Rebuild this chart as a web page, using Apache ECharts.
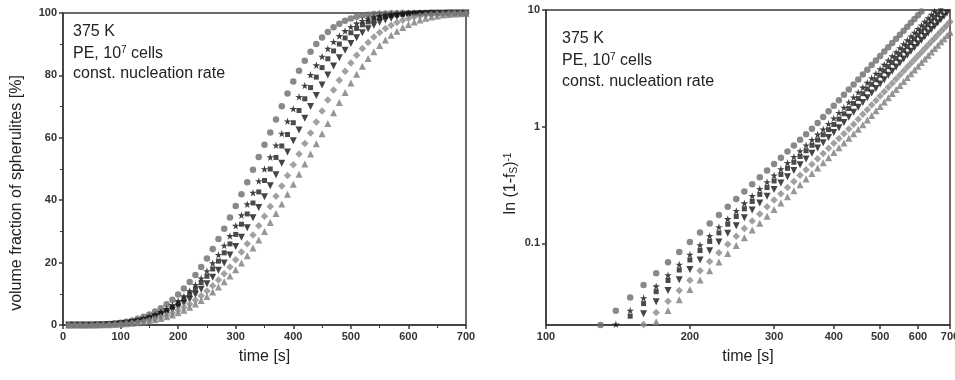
<!DOCTYPE html>
<html><head><meta charset="utf-8">
<script src="https://cdn.jsdelivr.net/npm/echarts@6/dist/echarts.min.js"></script>
<style>html,body{margin:0;padding:0;background:#fff}#c{width:955px;height:380px}</style>
</head><body><div id="c"></div><script>
// time [s]
const time = [10,20,30,40,50,60,70,80,90,100,110,120,130,140,150,160,170,180,190,200,
210,220,230,240,250,260,270,280,290,300,310,320,330,340,350,360,370,380,390,400,
410,420,430,440,450,460,470,480,490,500,510,520,530,540,550,560,570,580,590,600,
610,620,630,640,650,660,670,680,690,700];
// ln(1-f_S)^-1 read per series
const circleY = [1.17e-6,1.63e-5,7.6e-5,2.27e-4,5.3e-4,1.06e-3,1.90e-3,3.16e-3,4.93e-3,7.38e-3,
0.0106,0.0147,0.0200,0.0265,0.0344,0.0440,0.0554,0.0689,0.0846,0.103,
0.124,0.148,0.175,0.206,0.240,0.279,0.322,0.369,0.422,0.480,
0.543,0.612,0.689,0.773,0.862,0.959,1.075,1.209,1.355,1.515,
1.688,1.876,2.083,2.305,2.542,2.802,3.078,3.376,3.698,4.045,
4.411,4.804,5.225,5.673,6.151,6.657,7.195,7.767,8.377,9.02,
9.69,10.4,11.2,12.0,12.8,13.7,14.7,15.6,16.7,17.8];
const starY = [7.9e-7,1.13e-5,5.4e-5,1.63e-4,3.86e-4,7.8e-4,1.41e-3,2.36e-3,3.71e-3,5.57e-3,
8.04e-3,0.0112,0.0153,0.0203,0.0266,0.0340,0.0430,0.0535,0.0659,0.0803,
0.0969,0.116,0.138,0.162,0.190,0.221,0.255,0.294,0.336,0.383,
0.434,0.490,0.552,0.619,0.693,0.772,0.858,0.951,1.058,1.181,
1.315,1.459,1.618,1.788,1.970,2.169,2.381,2.608,2.854,3.117,
3.397,3.696,4.017,4.355,4.719,5.103,5.511,5.940,6.405,6.890,
7.398,7.943,8.511,9.120,9.755,10.42,11.13,11.87,12.64,13.47];
const squareY = [7.1e-7,1.02e-5,4.84e-5,1.47e-4,3.47e-4,6.98e-4,1.26e-3,2.11e-3,3.32e-3,5.00e-3,
7.22e-3,0.0101,0.0137,0.0183,0.0238,0.0305,0.0386,0.0481,0.0592,0.0721,
0.0869,0.104,0.123,0.146,0.170,0.198,0.229,0.263,0.301,0.343,
0.390,0.440,0.496,0.556,0.622,0.693,0.770,0.853,0.943,1.045,
1.163,1.291,1.431,1.582,1.743,1.919,2.107,2.308,2.526,2.759,
3.007,3.270,3.553,3.854,4.175,4.515,4.879,5.258,5.668,6.099,
6.549,7.031,7.534,8.072,8.632,9.222,9.851,10.50,11.19,11.92];
const downTriY = [5.0e-7,7.5e-6,3.65e-5,1.12e-4,2.68e-4,5.45e-4,9.94e-4,1.67e-3,2.64e-3,4.00e-3,
5.80e-3,8.15e-3,0.0111,0.0149,0.0195,0.0250,0.0317,0.0396,0.0489,0.0597,
0.0722,0.0865,0.103,0.122,0.142,0.166,0.193,0.222,0.254,0.290,
0.330,0.373,0.421,0.473,0.530,0.591,0.657,0.730,0.808,0.892,
0.981,1.087,1.205,1.331,1.467,1.616,1.774,1.943,2.126,2.322,
2.530,2.754,2.992,3.244,3.516,3.802,4.106,4.426,4.771,5.134,
5.511,5.917,6.341,6.796,7.266,7.762,8.292,8.843,9.419,10.03];
const diamondY = [4.07e-7,6.08e-6,2.95e-5,9.08e-5,2.17e-4,4.41e-4,8.04e-4,1.35e-3,2.14e-3,3.24e-3,
4.69e-3,6.59e-3,9.00e-3,0.0120,0.0157,0.0202,0.0256,0.0320,0.0396,0.0483,
0.0584,0.0700,0.0833,0.0983,0.115,0.134,0.156,0.179,0.206,0.235,
0.267,0.302,0.340,0.383,0.428,0.478,0.532,0.590,0.653,0.721,
0.794,0.872,0.956,1.051,1.159,1.276,1.400,1.534,1.679,1.833,
1.998,2.174,2.362,2.562,2.775,3.001,3.242,3.494,3.767,4.053,
4.350,4.672,5.007,5.364,5.737,6.130,6.549,6.983,7.436,7.918];
const triangleY = [3.39e-7,5.06e-6,2.45e-5,7.55e-5,1.80e-4,3.66e-4,6.68e-4,1.13e-3,1.78e-3,2.69e-3,
3.90e-3,5.48e-3,7.48e-3,0.0100,0.0131,0.0168,0.0213,0.0266,0.0329,0.0402,
0.0486,0.0582,0.0693,0.0818,0.0959,0.112,0.130,0.149,0.171,0.195,
0.222,0.251,0.283,0.318,0.356,0.398,0.442,0.491,0.543,0.600,
0.660,0.725,0.795,0.870,0.949,1.039,1.140,1.249,1.367,1.493,
1.627,1.770,1.923,2.086,2.260,2.443,2.639,2.845,3.067,3.300,
3.543,3.805,4.077,4.369,4.672,4.992,5.333,5.684,6.056,6.449];
// tick labels
const leftXTicks = [0,100,200,300,400,500,600,700];
const leftYTicks = [0,20,40,60,80,100];
const rightXTicks = [100,200,300,400,500,600,700];

const STAR = 'path://M50,0 L61,35 L98,35 L68,57 L79,91 L50,70 L21,91 L32,57 L2,35 L39,35 Z';
const styles = [
  {y: circleY,   symbol: 'circle',   size: 6.5, rot: 0,   color: '#6c6c6c'},
  {y: starY,     symbol: STAR,       size: 7.5, rot: 0,   color: '#111111'},
  {y: squareY,   symbol: 'rect',     size: 5,   rot: 0,   color: '#1e1e1e'},
  {y: downTriY,  symbol: 'triangle', size: 7,   rot: 180, color: '#151515'},
  {y: diamondY,  symbol: 'diamond',  size: 7.5, rot: 0,   color: '#8a8a8a'},
  {y: triangleY, symbol: 'triangle', size: 7,   rot: 0,   color: '#7c7c7c'}
];

const FONT = '"Liberation Sans", Arial, sans-serif';
const axisLineStyle = {color: '#3a3a3a', width: 1.5};
const labelStyle = {fontSize: 11, fontWeight: 'bold', color: '#333', fontFamily: FONT};
const nameStyle = {fontSize: 16, color: '#222', fontFamily: FONT};

const series = [];
styles.forEach((s, k) => {
  series.push({
    type: 'scatter', xAxisIndex: 0, yAxisIndex: 0, symbol: s.symbol, symbolSize: s.size,
    symbolRotate: s.rot, itemStyle: {color: s.color}, silent: true, clip: true,
    data: time.map((t, i) => [t, 100 * (1 - Math.exp(-s.y[i]))])
  });
  series.push({
    type: 'scatter', xAxisIndex: 1, yAxisIndex: 1, symbol: s.symbol, symbolSize: s.size,
    symbolRotate: s.rot, itemStyle: {color: s.color}, silent: true, clip: true,
    data: time.map((t, i) => [t, s.y[i]])
  });
});

function txt(x, y, text) {
  return {type: 'text', left: x, top: y, silent: true,
    style: {text: text, fill: '#222', font: '16px ' + FONT,
      rich: {sup: {fontSize: 10, fontFamily: FONT, fill: '#222', verticalAlign: 'top', padding: [0, 0, 7, 0]},
             n: {fontSize: 16, fontFamily: FONT, fill: '#222'}}}};
}

const chart = echarts.init(document.getElementById('c'), null, {renderer: 'canvas'});
chart.setOption({
  animation: false,
  backgroundColor: '#fff',
  grid: [
    {left: 63, right: 489, top: 13, bottom: 55, show: true, borderColor: '#3a3a3a', borderWidth: 1.5, backgroundColor: 'transparent', outerBoundsMode: 'none', containLabel: false},
    {left: 546, right: 5, top: 10, bottom: 55, show: true, borderColor: '#3a3a3a', borderWidth: 1.5, backgroundColor: 'transparent', outerBoundsMode: 'none', containLabel: false}
  ],
  xAxis: [
    {type: 'value', gridIndex: 0, min: leftXTicks[0], max: leftXTicks[leftXTicks.length - 1], interval: 100,
     name: 'time [s]', nameLocation: 'middle', nameGap: 24, nameTextStyle: nameStyle,
     axisLine: {show: true, lineStyle: axisLineStyle}, axisTick: {show: true, length: 4, lineStyle: axisLineStyle},
     minorTick: {show: true, splitNumber: 2, length: 3, lineStyle: {color: '#3a3a3a'}},
     axisLabel: Object.assign({margin: 6}, labelStyle), splitLine: {show: false}},
    {type: 'log', logBase: 10, gridIndex: 1, min: rightXTicks[0], max: rightXTicks[rightXTicks.length - 1],
     name: 'time [s]', nameLocation: 'middle', nameGap: 24, nameTextStyle: nameStyle,
     axisLine: {show: true, lineStyle: axisLineStyle},
     axisTick: {show: true, length: 4, lineStyle: axisLineStyle, customValues: rightXTicks},
     axisLabel: Object.assign({margin: 6, customValues: rightXTicks}, labelStyle), splitLine: {show: false}}
  ],
  yAxis: [
    {type: 'value', gridIndex: 0, min: leftYTicks[0], max: leftYTicks[leftYTicks.length - 1], interval: 20,
     name: 'volume fraction of spherulites [%]', nameLocation: 'middle', nameGap: 38, nameRotate: 90,
     nameTextStyle: Object.assign({padding: [0, 48, 0, 0]}, nameStyle),
     axisLine: {show: true, lineStyle: axisLineStyle}, axisTick: {show: true, length: 4, lineStyle: axisLineStyle},
     minorTick: {show: true, splitNumber: 2, length: 3, lineStyle: {color: '#3a3a3a'}},
     axisLabel: Object.assign({margin: 6}, labelStyle), splitLine: {show: false}},
    {type: 'log', logBase: 10, gridIndex: 1, min: 0.02, max: 10,
     name: 'ln (1-f{s|S}){p|-1}', nameLocation: 'middle', nameGap: 27, nameRotate: 90,
     nameTextStyle: Object.assign({padding: [0, 32, 0, 0], rich: {
        s: {fontSize: 10, fontFamily: FONT, color: '#222', verticalAlign: 'bottom', padding: [6, 0, 0, 0]},
        p: {fontSize: 10, fontFamily: FONT, color: '#222', verticalAlign: 'top', padding: [0, 0, 6, 0]}}}, nameStyle),
     axisLine: {show: true, lineStyle: axisLineStyle}, axisTick: {show: true, length: 4, lineStyle: axisLineStyle},
     axisLabel: Object.assign({margin: 6, showMinLabel: false}, labelStyle), splitLine: {show: false}}
  ],
  graphic: [
    txt(73, 24, '375 K'), txt(73, 45, '{n|PE, 10}{sup|7}{n| cells}'), txt(73, 66, 'const. nucleation rate'),
    txt(562, 31, '375 K'), txt(562, 52, '{n|PE, 10}{sup|7}{n| cells}'), txt(562, 74, 'const. nucleation rate')
  ],
  series: series
});
</script></body></html>
